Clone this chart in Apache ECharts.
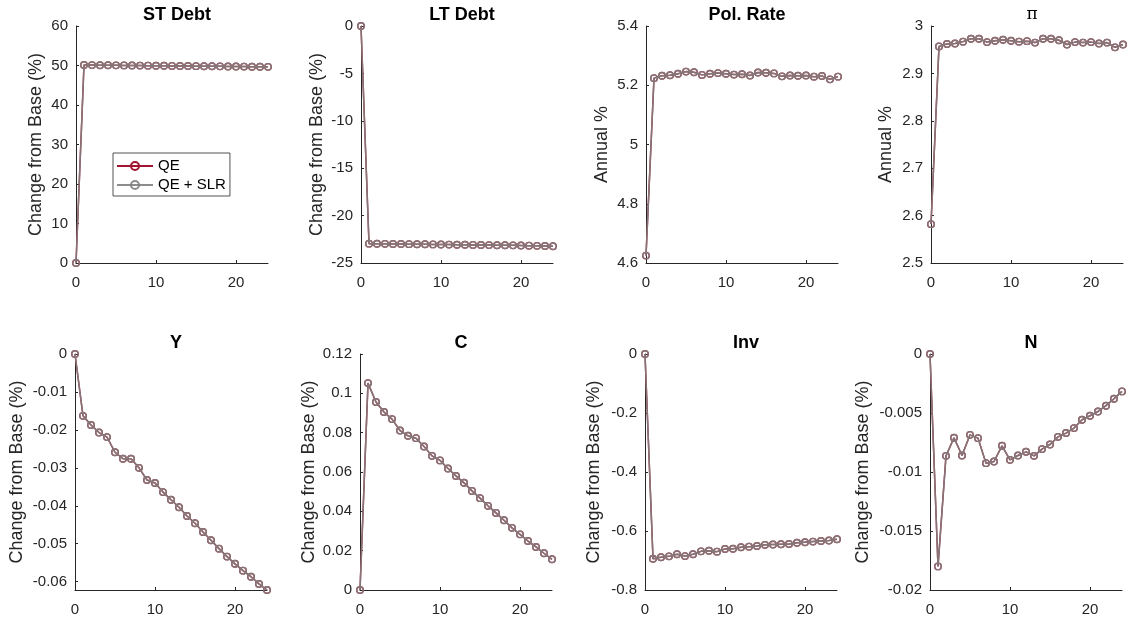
<!DOCTYPE html>
<html>
<head>
<meta charset="utf-8">
<script src="https://cdn.jsdelivr.net/npm/echarts@6/dist/echarts.min.js"></script>
<style>
html,body{margin:0;padding:0;background:#fff;}
#c{width:1128px;height:620px;}
</style>
</head>
<body>
<div id="c"></div>
<script>
const steps = [0,1,2,3,4,5,6,7,8,9,10,11,12,13,14,15,16,17,18,19,20,21,22,23,24];
const seriesNames = ['QE', 'QE + SLR'];
const panelTitles = ['ST Debt', 'LT Debt', 'Pol. Rate', '\u03c0', 'Y', 'C', 'Inv', 'N'];
const yNames = ['Change from Base (%)', 'Change from Base (%)', 'Annual %', 'Annual %',
  'Change from Base (%)', 'Change from Base (%)', 'Change from Base (%)', 'Change from Base (%)'];

const stDebt = [0, 50.12, 50.1, 50.08, 50.06, 50.04, 50.02, 50.0, 49.98, 49.96, 49.94, 49.92, 49.9, 49.88, 49.86, 49.84, 49.82, 49.8, 49.78, 49.76, 49.74, 49.72, 49.7, 49.68, 49.66];
const ltDebt = [0, -22.96, -22.97, -22.98, -22.99, -23.0, -23.01, -23.02, -23.03, -23.04, -23.05, -23.06, -23.07, -23.08, -23.09, -23.1, -23.11, -23.12, -23.13, -23.14, -23.15, -23.17, -23.19, -23.21, -23.23];
const polRate = [4.625, 5.224, 5.232, 5.234, 5.239, 5.246, 5.244, 5.235, 5.239, 5.241, 5.239, 5.236, 5.237, 5.233, 5.243, 5.242, 5.24, 5.23, 5.233, 5.232, 5.233, 5.229, 5.231, 5.22, 5.229];
const piVals = [2.582, 2.957, 2.962, 2.963, 2.967, 2.973, 2.973, 2.966, 2.969, 2.971, 2.969, 2.967, 2.968, 2.965, 2.973, 2.973, 2.97, 2.961, 2.966, 2.965, 2.966, 2.963, 2.965, 2.955, 2.961];
const yVals = [0, -0.0163, -0.0187, -0.0207, -0.0219, -0.0259, -0.0276, -0.0276, -0.0300, -0.0332, -0.0340, -0.0364, -0.0384, -0.0404, -0.0427, -0.0446, -0.0469, -0.0491, -0.0513, -0.0534, -0.0553, -0.0571, -0.0587, -0.0606, -0.0622];
const cVals = [0, 0.1052, 0.0956, 0.0905, 0.0869, 0.0811, 0.0784, 0.0772, 0.0730, 0.0682, 0.0659, 0.0618, 0.0580, 0.0545, 0.0504, 0.0467, 0.0428, 0.0392, 0.0355, 0.0316, 0.0283, 0.0249, 0.0219, 0.0187, 0.0156];
const invVals = [0, -0.694, -0.689, -0.686, -0.679, -0.685, -0.679, -0.669, -0.667, -0.670, -0.661, -0.660, -0.655, -0.653, -0.651, -0.647, -0.646, -0.645, -0.644, -0.640, -0.638, -0.636, -0.634, -0.632, -0.628];
const nVals = [0, -0.0180, -0.00863, -0.0071, -0.0086, -0.00685, -0.00713, -0.00925, -0.00911, -0.00778, -0.00897, -0.0086, -0.00829, -0.00863, -0.00806, -0.00767, -0.00702, -0.0067, -0.00628, -0.00557, -0.00523, -0.00487, -0.00438, -0.00379, -0.00317];

const panelData = [stDebt, ltDebt, polRate, piVals, yVals, cVals, invVals, nVals];
const xTicks = [0, 10, 20];
const yTicks = [
  [0, 10, 20, 30, 40, 50, 60],
  [-25, -20, -15, -10, -5, 0],
  [4.6, 4.8, 5, 5.2, 5.4],
  [2.5, 2.6, 2.7, 2.8, 2.9, 3],
  [-0.06, -0.05, -0.04, -0.03, -0.02, -0.01, 0],
  [0, 0.02, 0.04, 0.06, 0.08, 0.1, 0.12],
  [-0.8, -0.6, -0.4, -0.2, 0],
  [-0.02, -0.015, -0.01, -0.005, 0]
];
const yMin = [0, -25, 4.6, 2.5, -0.0622, 0, -0.8, -0.02];
const yMax = [60, 0, 5.4, 3, 0, 0.12, 0, 0];

// layout
const gridPos = [
  [76, 26, 192, 237], [361, 26, 192, 237], [646, 26, 192, 237], [931, 26, 192, 237],
  [75, 354, 192, 236], [360, 354, 192, 236], [645, 354, 192, 236], [930, 354, 192, 236]
];
const nameGaps = [31, 35, 35, 36, 49, 42, 42, 58];
const RED = '#A2142F', GRAY = '#808080', AX = '#262626';
const FONT = '"Liberation Sans", Arial, Helvetica, sans-serif';

const grids = [], xAxes = [], yAxes = [], series = [], titles = [];
panelData.forEach((vals, i) => {
  const g = gridPos[i];
  grids.push({left: g[0], top: g[1], width: g[2], height: g[3], containLabel: false});
  xAxes.push({
    type: 'value', gridIndex: i, min: 0, max: 24,
    axisLine: {show: true, onZero: false, lineStyle: {color: AX, width: 1}},
    axisTick: {show: true, inside: true, length: 3, lineStyle: {color: AX}, customValues: xTicks},
    axisLabel: {color: AX, fontSize: 15, fontFamily: FONT, margin: 12, customValues: xTicks},
    splitLine: {show: false}
  });
  yAxes.push({
    type: 'value', gridIndex: i, min: yMin[i], max: yMax[i],
    name: yNames[i], nameLocation: 'middle', nameRotate: 90, nameGap: nameGaps[i],
    nameTextStyle: {color: AX, fontSize: 18, fontFamily: FONT},
    axisLine: {show: true, onZero: false, lineStyle: {color: AX, width: 1}},
    axisTick: {show: true, inside: true, length: 3, lineStyle: {color: AX}, customValues: yTicks[i]},
    axisLabel: {color: AX, fontSize: 15, fontFamily: FONT, margin: 8, customValues: yTicks[i]},
    splitLine: {show: false}
  });
  const pts = steps.map((s, k) => [s, vals[k]]);
  [RED, GRAY].forEach((col, j) => {
    series.push({
      name: seriesNames[j], type: 'line', xAxisIndex: i, yAxisIndex: i,
      data: pts, clip: false, symbol: 'circle', symbolSize: 6.5, showSymbol: true,
      lineStyle: {color: col, width: 1.5, opacity: j === 1 ? 0.9 : 1},
      itemStyle: {color: 'rgba(0,0,0,0)', borderColor: col, borderWidth: 1.4, opacity: j === 1 ? 0.9 : 1},
      emphasis: {disabled: true}, z: 2 + j
    });
  });
  titles.push({
    text: panelTitles[i],
    left: g[0] + g[2] / 2, top: g[1] - 25, textAlign: 'center',
    textStyle: {
      color: '#000', fontSize: i === 3 ? 17 : 18,
      fontWeight: i === 3 ? 'normal' : 'bold',
      fontFamily: i === 3 ? '"DejaVu Serif", serif' : FONT
    }
  });
});

const chart = echarts.init(document.getElementById('c'), null, {renderer: 'canvas'});
chart.setOption({
  animation: false,
  backgroundColor: '#fff',
  title: titles,
  grid: grids,
  xAxis: xAxes,
  yAxis: yAxes,
  legend: {
    data: seriesNames, orient: 'vertical', left: 113, top: 153,
    padding: [5, 4, 3, 3], itemWidth: 36, itemHeight: 10, itemGap: 3,
    backgroundColor: '#fff', borderColor: AX, borderWidth: 0.8,
    textStyle: {color: '#000', fontSize: 15, fontFamily: FONT, lineHeight: 16},
    selectedMode: false
  },
  series: series
});
</script>
</body>
</html>
